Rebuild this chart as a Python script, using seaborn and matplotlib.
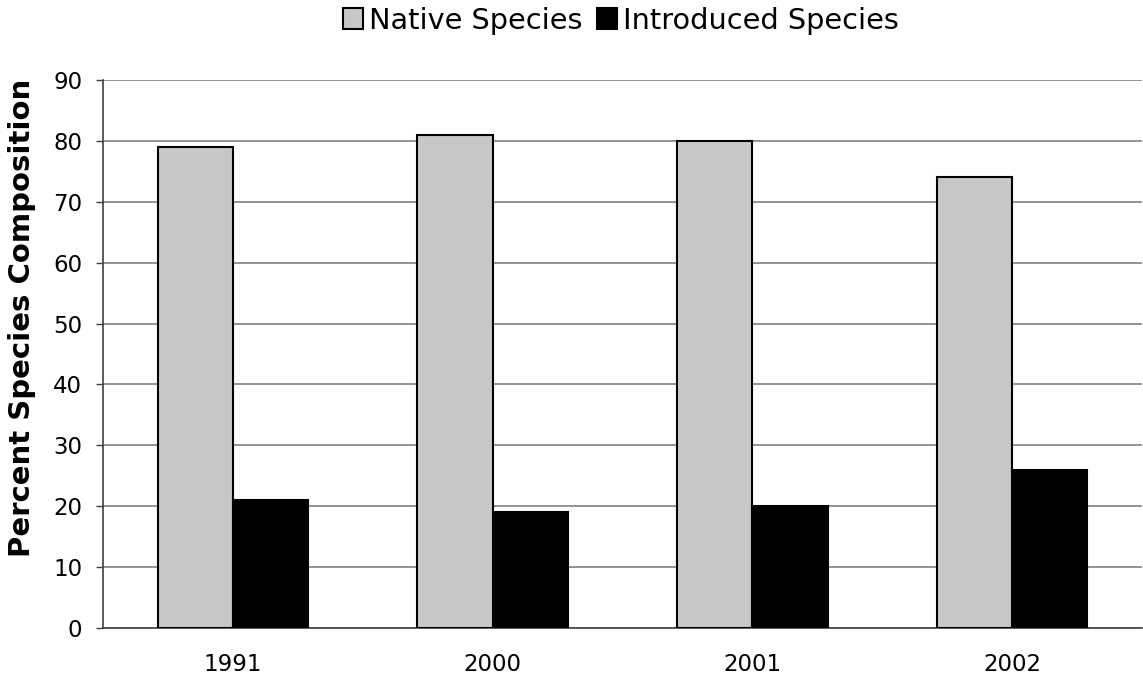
import pandas as pd
import matplotlib.pyplot as plt
import seaborn as sns

years = ['1991', '2000', '2001', '2002']
native = [79, 81, 80, 74]
introduced = [21, 19, 20, 26]
series = ['Native Species', 'Introduced Species']

df = pd.DataFrame({
    'year': years * 2,
    'percent': native + introduced,
    'group': [series[0]] * len(years) + [series[1]] * len(years),
})

sns.set_style('white')
plt.rcParams['font.family'] = ['DejaVu Sans']
plt.rcParams['text.color'] = 'black'
plt.rcParams['xtick.color'] = 'black'
plt.rcParams['ytick.color'] = 'black'
plt.rcParams['axes.labelcolor'] = 'black'

fig = plt.figure(figsize=(11.43, 6.79), dpi=100)
ax = fig.add_axes([0.0901, 0.0751, 0.9090, 0.8071])

sns.barplot(data=df, x='year', y='percent', hue='group', hue_order=series,
            palette=['#c8c8c8', '#000000'], width=0.58, edgecolor='black',
            linewidth=1.5, saturation=1, ax=ax, zorder=3)

ax.set_ylim(0, 90)
ax.set_xlim(-0.5, 3.5)
ax.set_yticks(range(0, 91, 10))
ax.yaxis.grid(True, color='#808080', linewidth=1.2, zorder=0)
ax.set_axisbelow(True)
ax.set_xlabel('')
ax.set_ylabel('Percent Species Composition', fontsize=21, fontweight='bold')
ax.yaxis.set_label_coords(-0.064, 0.566)

ax.set_xticks([-0.5, 0.5, 1.5, 2.5, 3.5], minor=True)
ax.tick_params(axis='x', which='major', length=0, labelsize=16.5, pad=18)
ax.tick_params(axis='x', which='minor', length=7, width=1, color='#404040', direction='out')
ax.tick_params(axis='y', length=5, width=1, color='#404040', labelsize=16.5, pad=10, left=True)

for side in ['top', 'right']:
    ax.spines[side].set_visible(False)
for side in ['left', 'bottom']:
    ax.spines[side].set_color('#404040')
    ax.spines[side].set_linewidth(1.2)

handles, labels = ax.get_legend_handles_labels()
ax.legend(handles, labels, loc='upper center', bbox_to_anchor=(0.543, 1.003),
          bbox_transform=fig.transFigure, ncol=2, frameon=False, fontsize=20.7,
          handlelength=0.7, handleheight=0.7, handletextpad=0.2, columnspacing=0.5,
          borderaxespad=0.1, borderpad=0.2)

plt.savefig('out.png', dpi=100)
